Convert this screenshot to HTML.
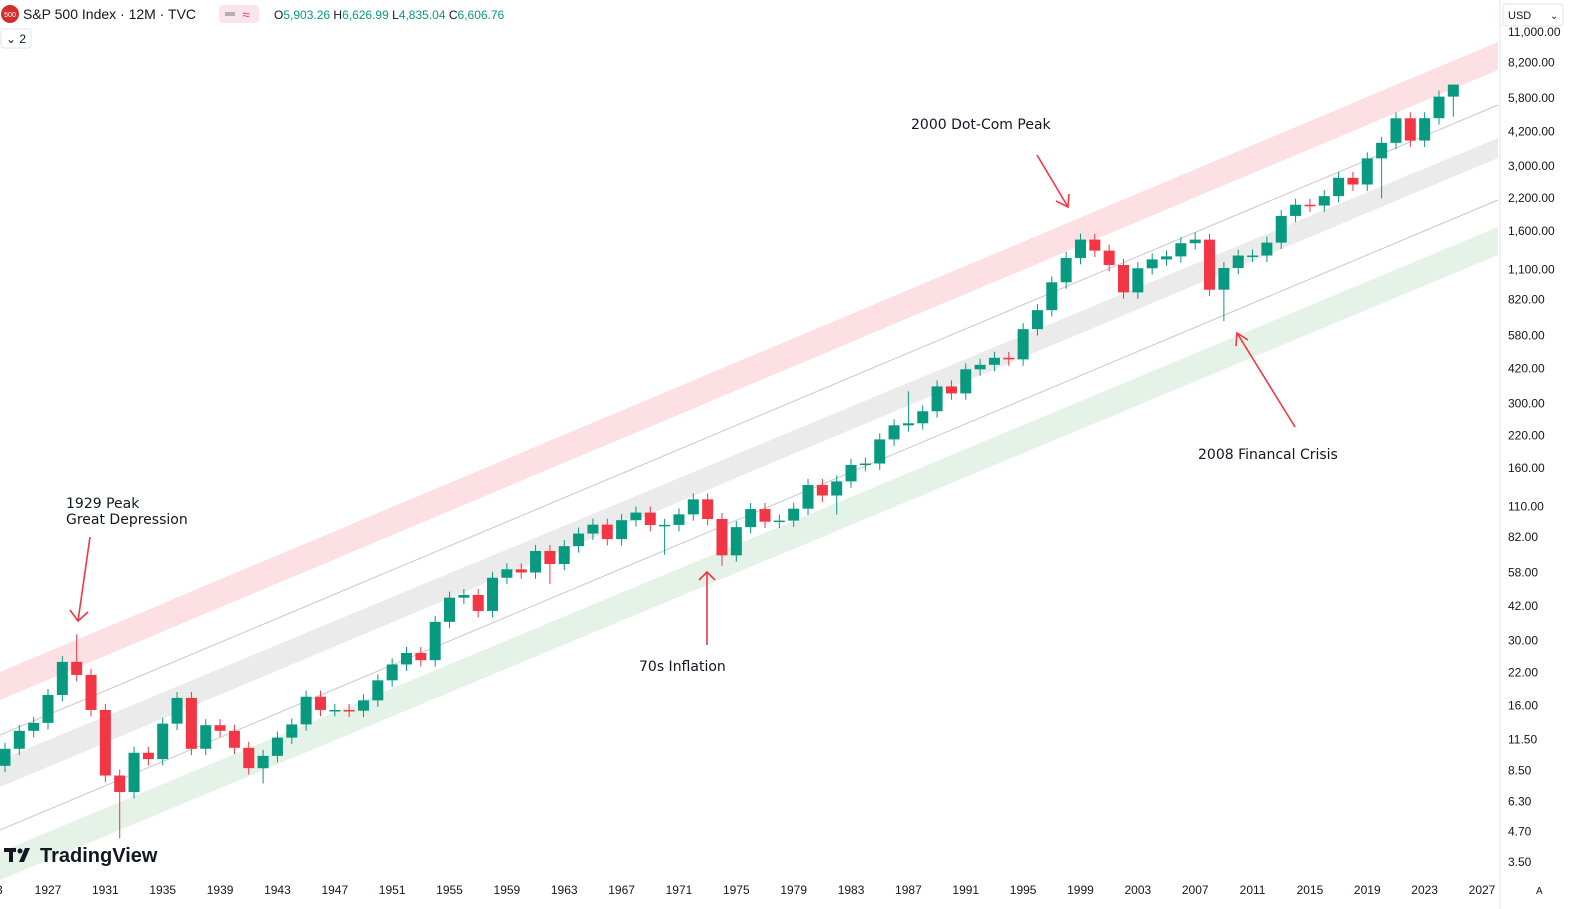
<!DOCTYPE html>
<html><head><meta charset="utf-8"><style>
body{margin:0;background:#fff;font-family:"Liberation Sans",sans-serif;overflow:hidden}
svg{display:block}
</style></head><body>
<svg id="s" width="1578" height="909" xmlns="http://www.w3.org/2000/svg" font-family="Liberation Sans, sans-serif">
<rect width="1578" height="909" fill="#fff"/>
<polygon points="0,672 1498,42 1498,70 0,700" fill="#fde0e3"/>
<line x1="0" y1="735" x2="1498" y2="105" stroke="#c8c8c8" stroke-width="1"/>
<polygon points="0,760 1498,138 1498,158 0,787" fill="#ebebeb"/>
<line x1="0" y1="830" x2="1498" y2="200" stroke="#c8c8c8" stroke-width="1"/>
<polygon points="0,852 1498,227 1498,255 0,880" fill="#e4f2e7"/>
<g id="c"></g>
<g font-size="15" fill="#131722" font-family="DejaVu Sans, sans-serif">
<text x="911" y="129" font-size="14">2000 Dot-Com Peak</text>
<text x="1198" y="459" font-size="14">2008 Financal Crisis</text>
<text x="639" y="671" font-size="14">70s Inflation</text>
<text x="66" y="508" font-size="14">1929 Peak</text>
<text x="66" y="524" font-size="14">Great Depression</text>
</g>
<g stroke="#f23645" stroke-width="1.6" fill="none">
<line x1="1037" y1="155" x2="1068" y2="207"/><polyline points="1056,201 1068,207 1069,194"/>
<line x1="1295" y1="427" x2="1237" y2="333"/><polyline points="1236,346 1237,333 1248,340"/>
<line x1="707" y1="645" x2="707" y2="572"/><polyline points="699,580 707,572 715,580"/>
<line x1="90" y1="537" x2="78" y2="621"/><polyline points="70,610 78,621 88,612"/>
</g>
<line x1="1500" y1="0" x2="1500" y2="909" stroke="#e0e3eb"/>
<g id="ax" font-size="12" fill="#131722"></g>
<g id="xa" font-size="12" fill="#131722"></g>
<circle cx="10" cy="14" r="9" fill="#d32f2f"/><text x="10" y="17" font-size="7" fill="#fff" text-anchor="middle">500</text>
<text x="23" y="19" font-size="14" fill="#131722">S&amp;P 500 Index · 12M · TVC</text>
<rect x="219" y="5" width="40" height="18" rx="4" fill="#fce4ec"/>
<rect x="225" y="12" width="10" height="4" fill="#b0b0b0"/>
<text x="246" y="19" font-size="13" fill="#f23645" text-anchor="middle">≈</text>
<text x="274" y="19" font-size="12" fill="#131722">O<tspan fill="#089981">5,903.26</tspan> H<tspan fill="#089981">6,626.99</tspan> L<tspan fill="#089981">4,835.04</tspan> C<tspan fill="#089981">6,606.76</tspan></text>
<rect x="1" y="29" width="30" height="19" rx="3" fill="#fff" stroke="#e0e3eb"/>
<text x="6" y="43" font-size="12" fill="#131722">⌄ 2</text>
<rect x="1503" y="4" width="60" height="22" rx="3" fill="#fff" stroke="#e0e3eb"/>
<text x="1508" y="19" font-size="11" fill="#131722">USD</text><text x="1550" y="19" font-size="10" fill="#131722">⌄</text>
<g fill="#131722"><rect x="4" y="848" width="12" height="4"/><rect x="9" y="848" width="4" height="14"/><circle cx="20" cy="851" r="2.5"/><polygon points="25,848 30,848 24,862 19,862"/></g>
<text x="40" y="862" font-size="20" font-weight="bold" fill="#131722">TradingView</text>
<text x="1536" y="894" font-size="10" fill="#131722">A</text>
</svg>
<script>
function Y(v){return 862-(Math.log10(v)-Math.log10(3.5))*237.3;}
function X(yr){return 48+(yr-1927)*14.34;}
var closes={1922:7.5,1923:8.9,1924:10.5,1925:12.5,1926:13.5,1927:17.7,1928:24.4,1929:21.5,1930:15.3,1931:8.1,1932:6.9,1933:10.1,1934:9.5,1935:13.4,1936:17.2,1937:10.5,1938:13.2,1939:12.5,1940:10.6,1941:8.7,1942:9.8,1943:11.7,1944:13.3,1945:17.4,1946:15.3,1947:15.3,1948:15.2,1949:16.8,1950:20.4,1951:23.8,1952:26.6,1953:24.8,1954:35.98,1955:45.5,1956:46.7,1957:39.99,1958:55.2,1959:59.9,1960:58.1,1961:71.6,1962:63.1,1963:75.0,1964:84.75,1965:92.4,1966:80.3,1967:96.5,1968:103.9,1969:92.1,1970:92.2,1971:102.1,1972:118.1,1973:97.6,1974:68.6,1975:90.2,1976:107.5,1977:95.1,1978:96.1,1979:107.9,1980:135.8,1981:122.6,1982:140.6,1983:164.9,1984:167.2,1985:211.3,1986:242.2,1987:247.1,1988:277.7,1989:353.4,1990:330.2,1991:417.1,1992:435.7,1993:466.4,1994:459.3,1995:615.9,1996:740.7,1997:970.4,1998:1229,1999:1469,2000:1320,2001:1148,2002:880,2003:1112,2004:1212,2005:1248,2006:1418,2007:1468,2008:903,2009:1115,2010:1258,2011:1258,2012:1426,2013:1848,2014:2059,2015:2044,2016:2239,2017:2674,2018:2507,2019:3231,2020:3756,2021:4766,2022:3840,2023:4770,2024:5882,2025:6607};
var hi={1929:31.9,2000:1553,2007:1576,1987:337,2025:6627},lo={1932:4.4,1974:62,2009:666,2020:2191,1962:52,1970:69,1982:102,2025:4835,1942:7.5};
var g=document.getElementById("c"),h="";
for(var y=1923;y<=2025;y++){var o=closes[y-1],c=closes[y];var x=X(y);if(x<-10)continue;
var up=c>=o,col=up?"#089981":"#f23645";var H=hi[y]||Math.max(o,c)*1.06,L=lo[y]||Math.min(o,c)*0.94;
var t=Y(Math.max(o,c)),b=Y(Math.min(o,c));if(b-t<1.5){b=t+1.5;}
h+='<line x1="'+x+'" y1="'+Y(H)+'" x2="'+x+'" y2="'+Y(L)+'" stroke="'+col+'" stroke-width="1"/>';
h+='<rect x="'+(x-5.5)+'" y="'+t+'" width="11" height="'+(b-t)+'" fill="'+col+'"/>';}
g.innerHTML=h;
var labs=[[11000,"11,000.00"],[8200,"8,200.00"],[5800,"5,800.00"],[4200,"4,200.00"],[3000,"3,000.00"],[2200,"2,200.00"],[1600,"1,600.00"],[1100,"1,100.00"],[820,"820.00"],[580,"580.00"],[420,"420.00"],[300,"300.00"],[220,"220.00"],[160,"160.00"],[110,"110.00"],[82,"82.00"],[58,"58.00"],[42,"42.00"],[30,"30.00"],[22,"22.00"],[16,"16.00"],[11.5,"11.50"],[8.5,"8.50"],[6.3,"6.30"],[4.7,"4.70"],[3.5,"3.50"]];
h="";labs.forEach(function(l){h+='<text x="1508" y="'+(Y(l[0])+4)+'">'+l[1]+'</text>';});
document.getElementById("ax").innerHTML=h;
h='<text x="-4" y="894">3</text>';for(var yr=1927;yr<=2027;yr+=4){h+='<text x="'+X(yr)+'" y="894" text-anchor="middle">'+yr+'</text>';}
document.getElementById("xa").innerHTML=h;
</script>
</body></html>
